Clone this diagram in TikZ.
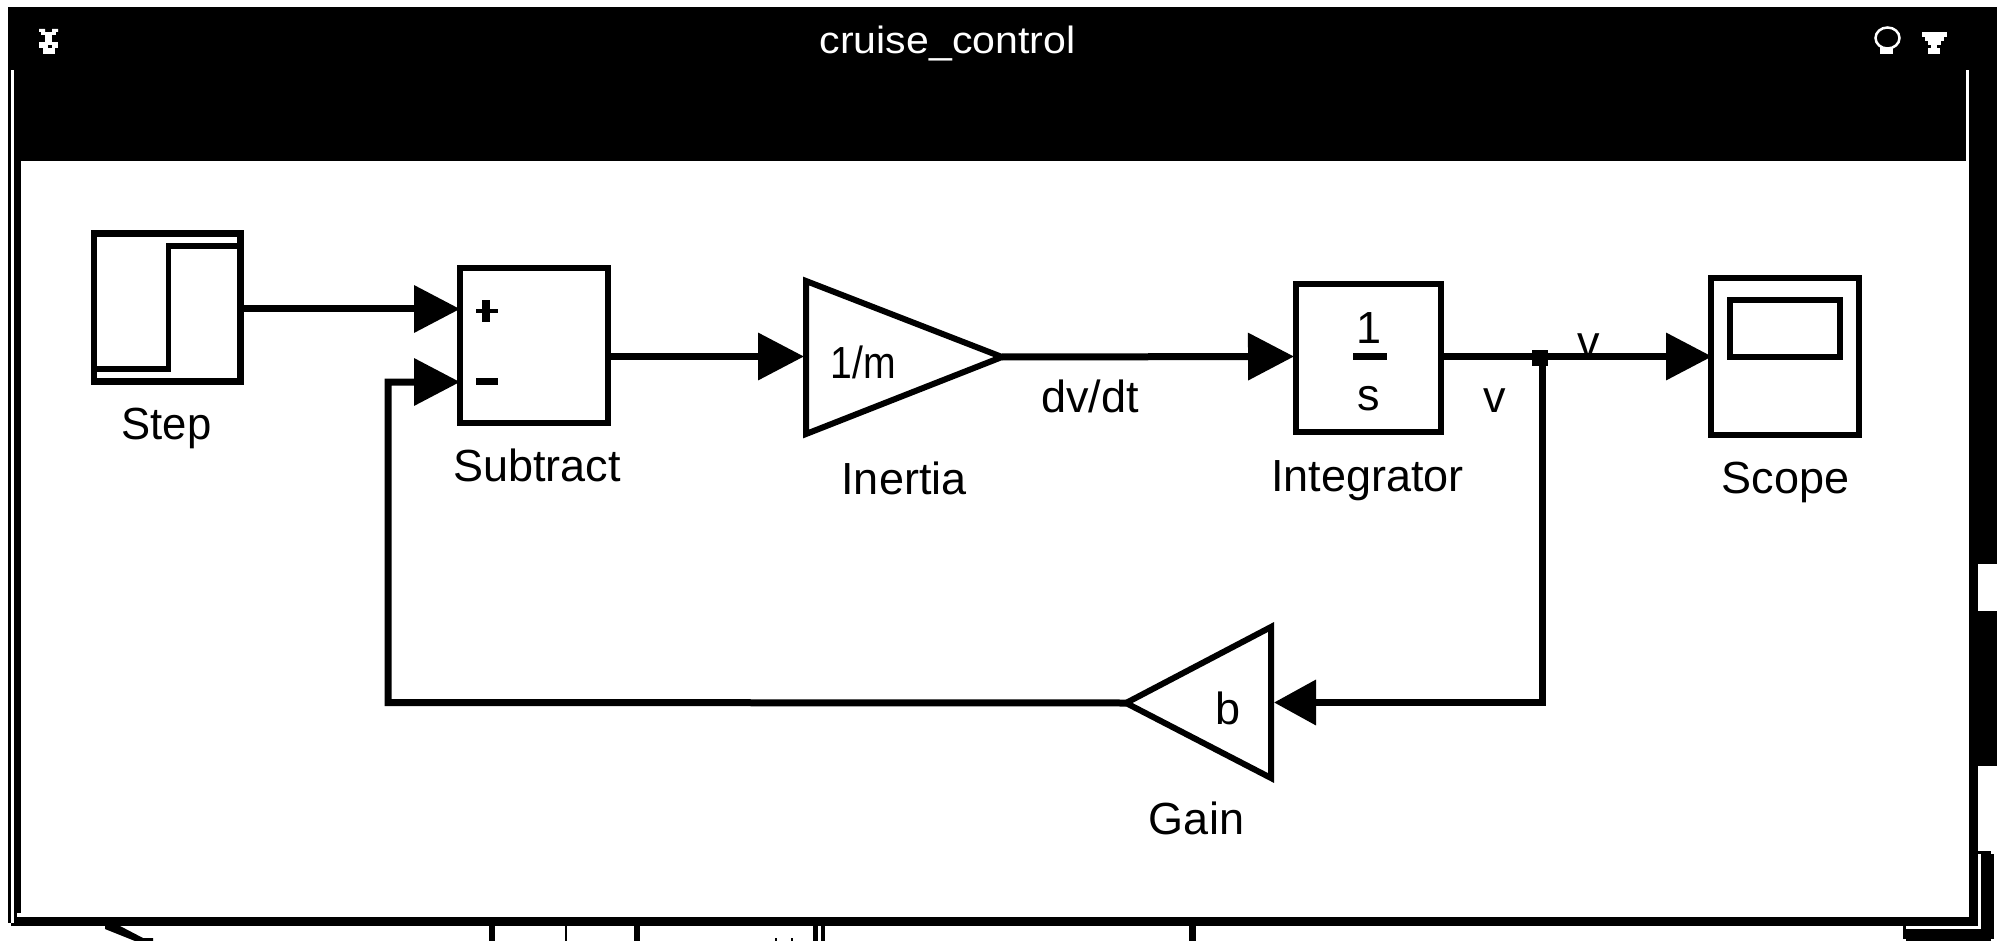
\documentclass[tikz,border=0pt]{standalone}
\usepackage{fontspec}
\setmainfont{Liberation Sans}
\usetikzlibrary{arrows.meta}
\tikzset{
  block/.style={draw=black,fill=white,line width=6.5pt,rectangle,inner sep=0pt},
  tri/.style={draw=black,fill=white,line width=6pt,line join=miter},
  wire/.style={draw=black,line width=7pt},
  sig/.style={wire,-{Triangle[length=46pt,width=46pt]}},
  lbl/.style={anchor=base,inner sep=0pt,font=\fontsize{45}{45}\selectfont},
  ink/.style={fill=black,draw=none},
  pale/.style={fill=white,draw=none}
}
\begin{document}
\begin{tikzpicture}[x=1pt,y=-1pt]
\useasboundingbox (0,0) rectangle (2000,941);
\fill[white] (0,0) rectangle (2000,941);
% window frame
\fill[ink] (8,7) rectangle (1997,161);
\fill[ink] (8,161) rectangle (21,913);
\fill[ink] (8,913) rectangle (17,923);
\fill[ink] (14,917) rectangle (1978,923);
\fill[ink] (11,923) rectangle (1978,926);
\fill[ink] (1969,161) rectangle (1997,564);
\fill[ink] (1969,564) rectangle (1978,611);
\fill[ink] (1969,611) rectangle (1997,766);
\fill[ink] (1969,766) rectangle (1978,926);
\fill[pale] (11,70) rectangle (14,923);
\fill[pale] (1966,70) rectangle (1969,161);
% shadow and the windows behind
\fill[ink] (1978,851) rectangle (1991,854);
\fill[ink] (1981,854) rectangle (1994,939);
\fill[ink] (1903,929) rectangle (1994,939);
\fill[ink] (1903,926) rectangle (1906,929);
\fill[ink] (1906,939) rectangle (1991,941);
\fill[ink] (105,926) -- (120,926) -- (143,938) -- (153,938) -- (153,941) -- (135,941) -- (105,929) -- cycle;
\fill[ink] (489,926) rectangle (495,941);
\fill[ink] (565,926) rectangle (567,941);
\fill[ink] (634,926) rectangle (640,941);
\fill[ink] (775,938) rectangle (777,941);
\fill[ink] (791,938) rectangle (793,941);
\fill[ink] (813,926) rectangle (818,941);
\fill[ink] (821,926) rectangle (825,941);
\fill[ink] (1189,926) rectangle (1196,941);
% title bar content
\node[anchor=base,inner sep=0pt,text=white,font=\fontsize{38}{38}\selectfont,xscale=1.08] (title) at (947.5,54) {cruise\_control};
\fill[pale] (39,29) rectangle (45,32) (52,29) rectangle (58,32);
\fill[pale] (41,32) rectangle (56,35);
\fill[pale] (45,35) rectangle (52,42);
\fill[pale] (39,42) rectangle (58,48);
\fill[pale] (43,48) rectangle (55,54);
\fill[ink] (48,45) rectangle (52,48);
\draw[white,line width=2.5pt] (1887.5,38) ellipse [x radius=12,y radius=10.5];
\fill[pale] (1880,47) rectangle (1893,54);
\fill[pale] (1922,32) rectangle (1947,37);
\fill[pale] (1925,37) rectangle (1944,41);
\fill[pale] (1928,41) rectangle (1941,45);
\fill[pale] (1931,45) rectangle (1937,48);
\fill[pale] (1928,48) rectangle (1940,54);
% blocks
\node[block,minimum width=146.5pt,minimum height=148pt] (stepblock) at (167.25,307.5) {};
\draw[line width=5.5pt,line join=miter] (97,369) -- (168.5,369) -- (168.5,246) -- (238,246);
\node[block,minimum width=148pt,minimum height=155pt] (subtract) at (534,345.5) {};
\fill[ink] (476,309) rectangle (498,313);
\fill[ink] (482,300) rectangle (490,322);
\fill[ink] (476,378) rectangle (498,385);
\coordinate (inertiaA) at (806,281);
\coordinate (inertiaB) at (806,434);
\coordinate (inertiaTip) at (1002,357);
\draw[tri] (inertiaA) -- (inertiaTip) -- (inertiaB) -- cycle;
\node[lbl,xscale=.87] (inertiaval) at (863,378) {1/m};
\node[block,minimum width=145pt,minimum height=148pt] (integrator) at (1368.5,358) {};
\node[lbl] (one) at (1369,343) {1};
\fill[ink] (1353,353) rectangle (1387,360);
\node[lbl] (ess) at (1369,410) {s};
\node[block,minimum width=148pt,minimum height=157pt] (scope) at (1785,356.5) {};
\node[draw=black,line width=6.5pt,rectangle,inner sep=0pt,minimum width=110pt,minimum height=57pt] (screen) at (1785,328.5) {};
\coordinate (gainA) at (1271,627);
\coordinate (gainB) at (1271,778);
\coordinate (gainTip) at (1126,703);
\draw[tri] (gainA) -- (gainTip) -- (gainB) -- cycle;
\node[lbl] (gainval) at (1228,724) {b};
% labels
\node[lbl,xscale=.97] (steplabel) at (166.5,439.5) {Step};
\node[lbl] (sublabel) at (537,481) {Subtract};
\node[lbl] (inertialabel) at (904,494) {Inertia};
\node[lbl] (intlabel) at (1367.5,491) {Integrator};
\node[lbl] (scopelabel) at (1785.5,493) {Scope};
\node[lbl] (gainlabel) at (1196.5,834) {Gain};
\node[lbl] (dvdt) at (1090,412) {dv/dt};
\node[lbl] (vlow) at (1494.5,412) {v};
\node[lbl] (vhigh) at (1588.5,357) {v};
% connector anchors
\coordinate (subIn1) at (460,309);
\coordinate (subIn2) at (460,382);
\coordinate (inertiaIn) at (804,356.5);
\coordinate (intIn) at (1294,356.5);
\coordinate (scopeIn) at (1712,356.5);
\coordinate (gainIn) at (1274,702.5);
\coordinate (branch) at (1542,356.5);
\coordinate (cornerR) at (1542,702.5);
\coordinate (cornerL) at (388,702.5);
% connectors
\draw[sig] (stepblock.east |- subIn1) -- (subIn1);
\draw[sig] (subtract.east |- inertiaIn) -- (inertiaIn);
\draw[sig] (inertiaTip) -- (intIn);
\draw[sig] (integrator.east |- scopeIn) -- (scopeIn);
\draw[wire,-{Triangle[length=42pt,width=44pt]}] (branch) -- (cornerR) -- (gainIn);
\draw[sig] (gainTip) -- (cornerL) -- (cornerL |- subIn2) -- (subIn2);
\fill[ink] (1532,350) rectangle (1548,366);
\end{tikzpicture}
\end{document}
